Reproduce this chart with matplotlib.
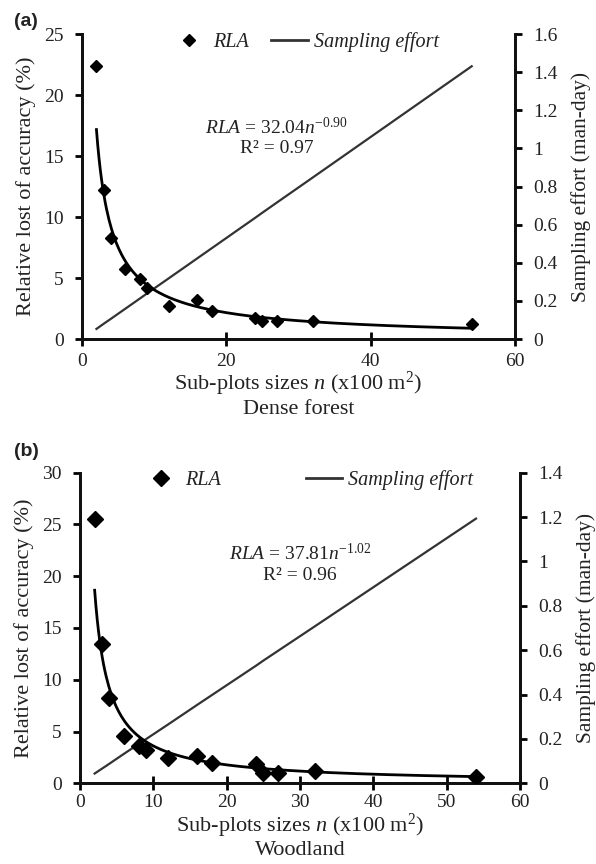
import matplotlib.pyplot as plt
import matplotlib.lines as mlines
import numpy as np

plt.rcParams['font.family'] = 'Liberation Serif'
plt.rcParams['mathtext.fontset'] = 'custom'
plt.rcParams['mathtext.rm'] = 'Liberation Serif'
plt.rcParams['mathtext.it'] = 'Liberation Serif:italic'
plt.rcParams['text.color'] = '#222222'
plt.rcParams['axes.labelcolor'] = '#222222'
plt.rcParams['xtick.labelcolor'] = '#222222'
plt.rcParams['ytick.labelcolor'] = '#222222'

### Data ###
n_sizes = [2, 3, 4, 6, 8, 9, 12, 16, 18, 24, 25, 27, 32, 54]

rla_dense = [22.4, 12.2, 8.3, 5.7, 4.9, 4.2, 2.7, 3.2, 2.3, 1.7, 1.5, 1.5, 1.5, 1.2]
effort_dense = [0.053, 0.080, 0.106, 0.159, 0.212, 0.239, 0.318, 0.424, 0.477, 0.636,
                0.663, 0.716, 0.848, 1.431]
coef_dense = 32.04
exp_dense = -0.90
r2_dense = 0.97

rla_wood = [25.5, 13.5, 8.2, 4.6, 3.6, 3.2, 2.4, 2.6, 2.0, 1.9, 0.95, 1.0, 1.2, 0.6]
effort_wood = [0.044, 0.066, 0.088, 0.133, 0.177, 0.199, 0.265, 0.354, 0.398, 0.530,
               0.553, 0.597, 0.707, 1.193]
coef_wood = 37.81
exp_wood = -1.02
r2_wood = 0.96

fig = plt.figure(figsize=(5.96, 8.64), dpi=100)


def panel(rect, rla, effort, coef, expo, r2, ylim, yticks, y2lim, y2ticks, xticks,
          letter, letter_y, forest, ms, eq_xy, leg_anchor, leg_gap, lsp, xpad):
    ax = fig.add_axes(rect)
    ax2 = ax.twinx()

    ### Power trend line from the equation ###
    nn = np.linspace(min(n_sizes), max(n_sizes), 300)
    ax.plot(nn, coef * nn ** expo, color='black', lw=2, zorder=3)
    ax.plot(n_sizes, rla, 'D', color='black', ms=ms, zorder=4)
    ax2.plot(n_sizes, effort, color='#333333', lw=1.6)

    ax.set_xlim(0, 60)
    ax.set_ylim(*ylim)
    ax.set_yticks(yticks)
    ax.set_yticklabels([('%g' % t) for t in yticks])
    ax.set_xticks(xticks)
    ax.set_xticklabels([('%g' % t) for t in xticks])
    ax2.set_ylim(*y2lim)
    ax2.set_yticks(y2ticks)
    ax2.set_yticklabels([('%g' % t) for t in y2ticks])

    for a in (ax, ax2):
        a.spines['top'].set_visible(False)
        for s in a.spines.values():
            s.set_linewidth(2)
            s.set_color('#111111')
        a.tick_params(axis='y', direction='out', length=5, width=2, labelsize=14, pad=8)
        a.tick_params(axis='x', direction='inout', length=10, width=2, labelsize=14, pad=xpad)
    ax.set_zorder(ax2.get_zorder() + 1)
    ax.patch.set_visible(False)

    ax.set_ylabel('Relative lost of accuracy (%)', fontsize=16, labelpad=6)
    ax2.set_ylabel('Sampling effort (man-day)', fontsize=15.5, labelpad=10)
    ax.set_xlabel('Sub-plots sizes $\\it{n}$ (x100 m$^2$)' + '\n' + forest,
                  fontsize=16, labelpad=0, linespacing=lsp)

    ax.text(eq_xy[0], eq_xy[1], '$\\it{RLA}$ = %.2f$\\it{n}^{%.2f}$' % (coef, expo),
            transform=ax.transAxes, ha='center', va='center', fontsize=14)
    ax.text(eq_xy[0], eq_xy[1] - 0.07, 'R\u00b2 = %.2f' % r2,
            transform=ax.transAxes, ha='center', va='center', fontsize=14)

    h1 = mlines.Line2D([], [], ls='none', marker='D', color='black', ms=ms)
    h2 = mlines.Line2D([], [], color='#333333', lw=2)
    ax.legend([h1, h2], ['RLA', 'Sampling effort'], ncol=2, frameon=False,
              loc='center', bbox_to_anchor=leg_anchor, prop={'style': 'italic', 'size': 14.5},
              handlelength=1.8, handletextpad=0.3, columnspacing=leg_gap)

    fig.text(14 / 596, letter_y, letter, fontsize=14, fontweight='bold',
             family='Liberation Sans', ha='left', va='center')
    return ax


panel([0.1376, 0.6076, 0.7265, 0.353], rla_dense, effort_dense, coef_dense, exp_dense,
      r2_dense, (0, 25), [0, 5, 10, 15, 20, 25], (0, 1.6), [0, 0.2, 0.4, 0.6, 0.8, 1, 1.2, 1.4, 1.6],
      [0, 20, 40, 60], '(a)', 1 - 22 / 864, 'Dense forest', 6.5, (0.45, 0.695), (0.515, 0.975),
      1.1, 1.15, 5)

panel([0.1342, 0.0934, 0.7383, 0.3595], rla_wood, effort_wood, coef_wood, exp_wood,
      r2_wood, (0, 30), [0, 5, 10, 15, 20, 25, 30], (0, 1.4), [0, 0.2, 0.4, 0.6, 0.8, 1, 1.2, 1.4],
      [0, 10, 20, 30, 40, 50, 60], '(b)', 1 - 452 / 864, 'Woodland', 8, (0.5, 0.74), (0.518, 0.975),
      4.2, 1.12, 3)

fig.savefig('out.png', dpi=100)
